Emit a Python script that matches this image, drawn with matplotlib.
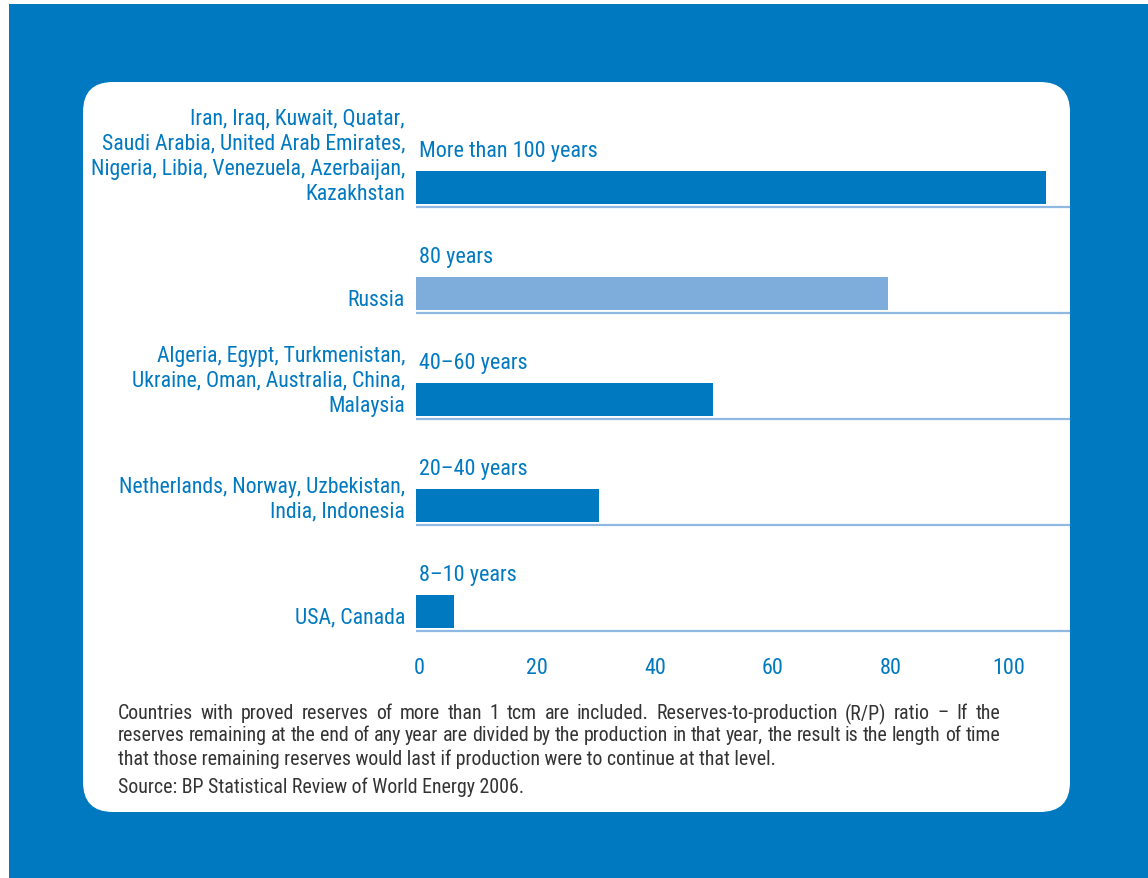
import os
import matplotlib
matplotlib.use("Agg")
import matplotlib.pyplot as plt
from matplotlib import font_manager
from matplotlib.font_manager import FontProperties
from matplotlib.patches import FancyBboxPatch, Rectangle
from matplotlib.transforms import IdentityTransform, offset_copy, ScaledTranslation

# data
countries = [
    "Iran, Iraq, Kuwait, Quatar,\nSaudi Arabia, United Arab Emirates,\nNigeria, Libia, Venezuela, Azerbaijan,\nKazakhstan",
    "Russia",
    "Algeria, Egypt, Turkmenistan,\nUkraine, Oman, Australia, China,\nMalaysia",
    "Netherlands, Norway, Uzbekistan,\nIndia, Indonesia",
    "USA, Canada",
]
rp_labels = ["More than 100 years", "80 years", "40–60 years", "20–40 years", "8–10 years"]
rp_years = [106.8, 80, 50.3, 31, 6.4]
x_ticks = [0, 20, 40, 60, 80, 100]

note_lines = [
    "Countries with proved reserves of more than 1 tcm are included. Reserves-to-production (R/P) ratio – If the",
    "reserves remaining at the end of any year are divided by the production in that year, the result is the length of time",
    "that those remaining reserves would last if production were to continue at that level.",
]
source = "Source: BP Statistical Review of World Energy 2006."

# colours
BLUE = "#0079c1"
LIGHT = "#7eacdb"
RULE = "#8fb8e2"
GREY = "#333333"
bar_colors = [BLUE, LIGHT, BLUE, BLUE, BLUE]

# look for a condensed face (the original uses a narrow grotesque)
narrow_file = None
wanted = ["liberationsansnarrow-regular", "robotocondensed-regular", "dejavusanscondensed.ttf",
          "opensans_condensed-regular", "opensans-condensedregular", "notosans-condensed.ttf",
          "notosans-condensedregular"]
files = [f.fname for f in font_manager.fontManager.ttflist]
for key in wanted:
    for fn in files:
        if os.path.basename(fn).lower().startswith(key):
            narrow_file = fn
            break
    if narrow_file:
        break


def fp(size):
    if narrow_file:
        return FontProperties(fname=narrow_file, size=size)
    # no narrow face: plain Liberation Sans, shrunk to about the same widths
    return FontProperties(family="Liberation Sans", size=size * 0.84)


LAB = 15.7
NOTE = 14.3

W, H = 1148, 879
fig = plt.figure(figsize=(W / 100, H / 100), dpi=100)
fig.patch.set_facecolor("white")

# blue frame + white rounded panel (pixel coords), behind the axes
fig.add_artist(Rectangle((9, 0), W - 9, H - 5, transform=IdentityTransform(),
                         facecolor=BLUE, edgecolor="none", zorder=-2))
fig.add_artist(FancyBboxPatch((83, H - 813), 987, 730, boxstyle="round,pad=0,rounding_size=30",
                              transform=IdentityTransform(), facecolor="white",
                              edgecolor="none", zorder=-1))

ax = fig.add_axes([416 / W, 1 - 650 / H, 654 / W, 530 / H])
ax.set_facecolor("none")
ypos = list(range(len(rp_years)))
ax.barh(ypos, rp_years, height=0.31, color=bar_colors, zorder=2)
for y in ypos:
    ax.axhline(y + 0.185, xmin=0.002, xmax=1, color=RULE, lw=1.6, zorder=1)

ax.set_xlim(0, 654 / 5.9)
ax.set_ylim(4.354, -0.646)
for s in ax.spines.values():
    s.set_visible(False)
ax.set_yticks([])
ax.set_xticks(x_ticks)
ax.set_xticklabels([str(t) for t in x_ticks], fontproperties=fp(15.9), color=BLUE)
ax.tick_params(axis="x", length=0, pad=6)
shift = ScaledTranslation(3 / 100, 0, fig.dpi_scale_trans)
for t in ax.get_xticklabels():
    t.set_transform(t.get_transform() + shift)

# value labels above bars
val_tr = offset_copy(ax.transData, fig=fig, x=3, y=0, units="dots")
for y, lab in zip(ypos, rp_labels):
    ax.text(0, y - 0.35, lab, transform=val_tr, ha="left", va="center",
            fontproperties=fp(15.9), color=BLUE, clip_on=False)

# country groups to the left
cat_tr = offset_copy(ax.transData, fig=fig, x=-11, y=0, units="dots")
for y, lab in zip(ypos, countries):
    ax.text(0, y + 0.155, lab, transform=cat_tr, ha="right", va="bottom",
            multialignment="right", fontproperties=fp(LAB), color=BLUE,
            linespacing=1.25, clip_on=False)

# footnote, first two lines justified
renderer = fig.canvas.get_renderer()


def justified(line, x0, x1, y, **kw):
    words = line.split(" ")
    texts = [fig.text(0, 0, w, transform=IdentityTransform(), va="center", **kw) for w in words]
    widths = [t.get_window_extent(renderer).width for t in texts]
    gap = (x1 - x0 - sum(widths)) / (len(words) - 1)
    x = x0
    for t, w in zip(texts, widths):
        t.set_position((x, y))
        x += w + gap


note_y = [714, 736, 759]
for i, line in enumerate(note_lines):
    if i < 2:
        justified(line, 118, 1000, H - note_y[i], fontproperties=fp(NOTE), color=GREY)
    else:
        fig.text(118, H - note_y[i], line, transform=IdentityTransform(), va="center",
                 fontproperties=fp(NOTE), color=GREY)
fig.text(118, H - 787, source, transform=IdentityTransform(), va="center",
         fontproperties=fp(NOTE), color=GREY)

fig.savefig("out.png", dpi=100)
